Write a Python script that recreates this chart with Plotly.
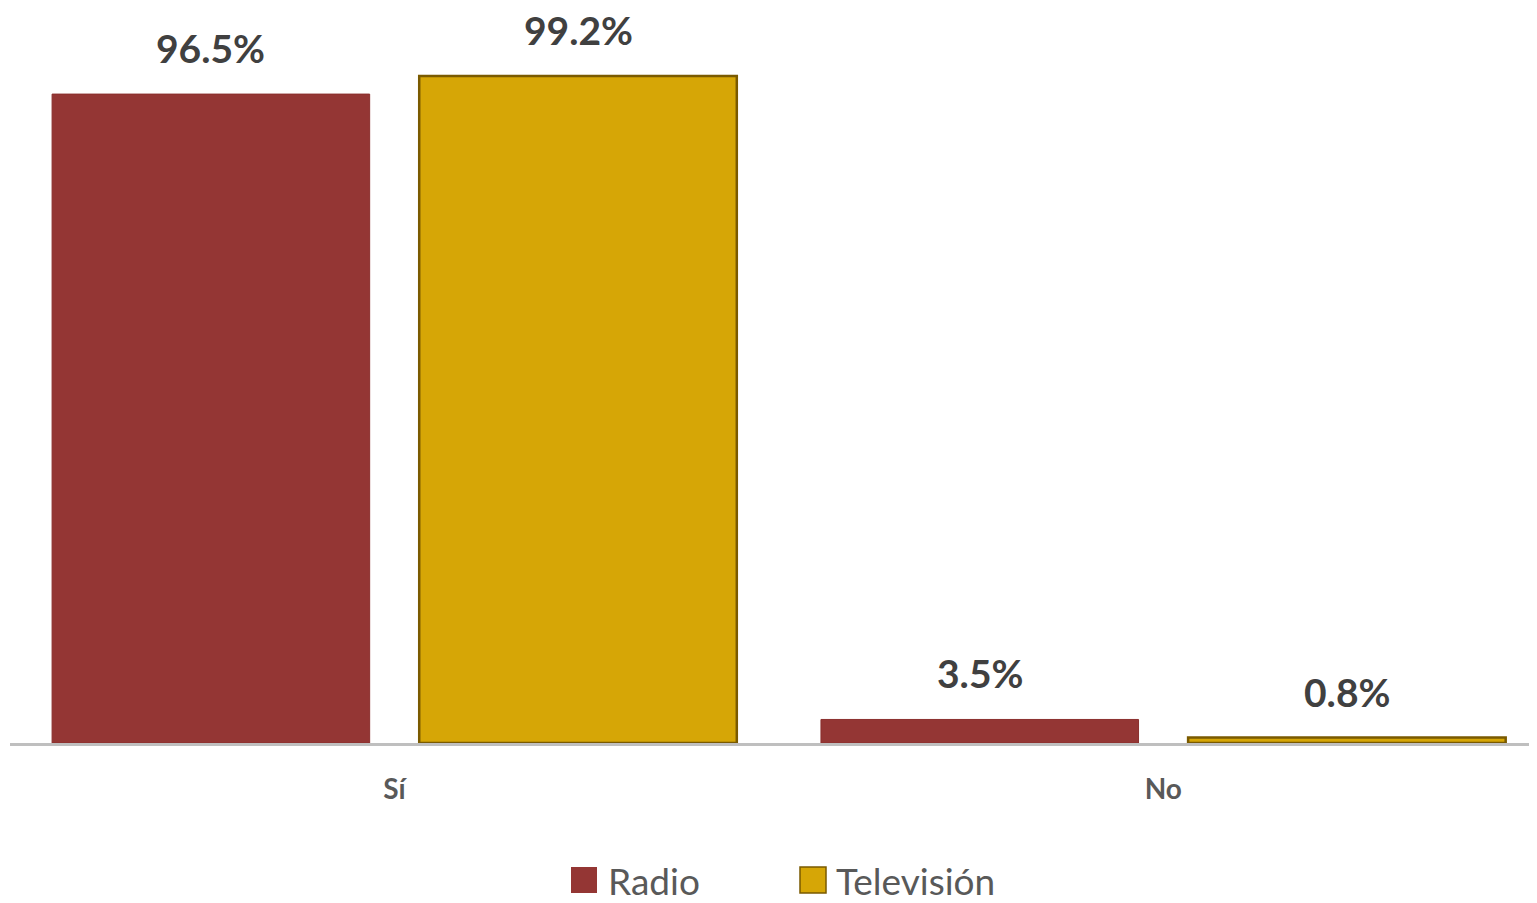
import plotly.graph_objects as go

categories = ["Sí", "No"]
series_names = ["Radio", "Televisión"]
radio_values = [96.5, 3.5]
tv_values = [99.2, 0.8]
colors = ["#943634", "#D6A606"]

BARGAP = 0.045
BARGROUPGAP = 0.135

# page has an 8px body margin; figure sized to fit the window
W, H = 1529, 895
L, B = 2, 160
PLOT_W = W - L
PLOT_H = H - B
OFF = 8  # page offset


def px_x(page_x):
    return (page_x - OFF - L) / PLOT_W


def px_y(page_y):
    return (PLOT_H - (page_y - OFF)) / PLOT_H


fig = go.Figure()
fig.add_trace(go.Bar(
    name=series_names[0], x=categories, y=radio_values,
    marker=dict(color=colors[0], line=dict(color="#8a2f2d", width=1)),
    showlegend=False,
))
fig.add_trace(go.Bar(
    name=series_names[1], x=categories, y=tv_values,
    marker=dict(color=colors[1], line=dict(color="#7a5a00", width=2.5)),
    showlegend=False,
))

annotations = []
offset = (1 - BARGAP) / 4
for i in range(len(categories)):
    for vals, off in ((radio_values, -offset), (tv_values, offset)):
        annotations.append(dict(
            x=i + off, y=vals[i], xref="x", yref="y",
            text=f"{vals[i]:.1f}%", showarrow=False,
            yanchor="middle", yshift=46,
            font=dict(family="Lato, sans-serif", size=39, color="#404040", weight="bold"),
        ))

# custom legend with large squares
shapes = []
legend_items = [(series_names[0], colors[0], 571, 606), (series_names[1], colors[1], 800, 834)]
y_c = 880
for idx, (name, col, sq_x, tx) in enumerate(legend_items):
    shapes.append(dict(
        type="rect", xref="paper", yref="paper",
        x0=px_x(sq_x), x1=px_x(sq_x + 26),
        y0=px_y(y_c + 13), y1=px_y(y_c - 13),
        fillcolor=col,
        line=dict(color="#7a5a00", width=1.5) if idx == 1 else dict(width=0),
    ))
    annotations.append(dict(
        x=px_x(tx), y=px_y(y_c), xref="paper", yref="paper",
        text=name, showarrow=False, xanchor="left", yanchor="middle",
        font=dict(family="Lato, sans-serif", size=37, color="#595959"),
    ))

fig.update_layout(
    width=W, height=H,
    margin=dict(l=L, r=0, t=0, b=B),
    barmode="group", bargap=BARGAP, bargroupgap=BARGROUPGAP,
    plot_bgcolor="white", paper_bgcolor="white",
    annotations=annotations, shapes=shapes,
    showlegend=False,
)
fig.update_xaxes(
    range=[-0.5, 1.486], showline=True, linecolor="#BFBFBF", linewidth=3,
    ticks="outside", ticklen=19, tickcolor="rgba(0,0,0,0)",
    tickfont=dict(family="Lato, sans-serif", size=28, color="#595959", weight="bold"),
    showgrid=False, zeroline=False,
)
fig.update_yaxes(range=[0, 109.3], visible=False, showgrid=False, zeroline=False)

fig.write_html("out.html")
